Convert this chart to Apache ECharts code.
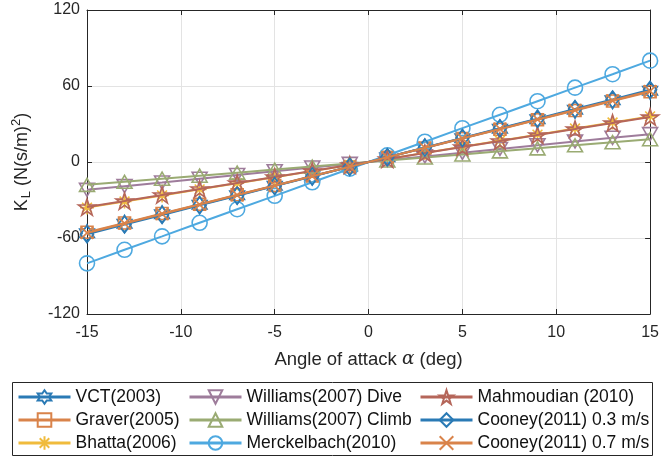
<!DOCTYPE html>
<html>
<head>
<meta charset="utf-8">
<script src="https://cdn.jsdelivr.net/npm/echarts@6/dist/echarts.min.js"></script>
<style>html,body{margin:0;padding:0;background:#fff}#c{width:662px;height:460px}</style>
</head>
<body>
<div id="c"></div>
<script>
const angles = [-15,-13,-11,-9,-7,-5,-3,-1,1,3,5,7,9,11,13,15];
const xTicks = [-15,-10,-5,0,5,10,15];
const yTicks = [-120,-60,0,60,120];

const vct2003 = [-56.3,-48.8,-41.3,-33.8,-26.3,-18.8,-11.3,-3.8,3.8,11.3,18.8,26.3,33.8,41.3,48.8,56.3];
const graver2005 = [-55.5,-48.1,-40.7,-33.3,-25.9,-18.5,-11.1,-3.7,3.7,11.1,18.5,25.9,33.3,40.7,48.1,55.5];
const bhatta2006 = [-36,-31.2,-26.4,-21.6,-16.8,-12,-7.2,-2.4,2.4,7.2,12,16.8,21.6,26.4,31.2,36];
const williamsDive = [-22,-19.1,-16.2,-13.2,-10.3,-7.3,-4.4,-1.5,1.5,4.4,7.3,10.3,13.2,16.2,19.1,22];
const williamsClimb = [-18,-15.6,-13.2,-10.8,-8.4,-6,-3.6,-1.2,1.2,3.6,6,8.4,10.8,13.2,15.6,18];
const merckelbach2010 = [-80,-69.3,-58.7,-48,-37.3,-26.7,-16,-5.3,5.3,16,26.7,37.3,48,58.7,69.3,80];
const mahmoudian2010 = [-35.5,-30.8,-26.0,-21.3,-16.6,-11.8,-7.1,-2.4,2.4,7.1,11.8,16.6,21.3,26.0,30.8,35.5];
const cooney03 = [-57,-49.4,-41.8,-34.2,-26.6,-19,-11.4,-3.8,3.8,11.4,19,26.6,34.2,41.8,49.4,57];
const cooney07 = [-56,-48.5,-41,-33.6,-26.1,-18.7,-11.2,-3.7,3.7,11.2,18.7,26.1,33.6,41,48.5,56];

const names = ['VCT(2003)','Graver(2005)','Bhatta(2006)','Williams(2007) Dive','Williams(2007) Climb','Merckelbach(2010)','Mahmoudian (2010)','Cooney(2011) 0.3 m/s','Cooney(2011) 0.7 m/s'];
const values = [vct2003,graver2005,bhatta2006,williamsDive,williamsClimb,merckelbach2010,mahmoudian2010,cooney03,cooney07];
const colors = ['#2a7ab5','#d9834a','#f0bb3c','#9e7c9b','#9aab73','#4ea9e0','#b5665a','#2a7ab5','#d9834a'];

const hexagram = 'path://M0,-10L2.89,-5L8.66,-5L5.77,0L8.66,5L2.89,5L0,10L-2.89,5L-8.66,5L-5.77,0L-8.66,-5L-2.89,-5Z';
const pentagram = 'path://M0,-10L2.25,-3.09L9.51,-3.09L3.63,1.18L5.88,8.09L0,3.82L-5.88,8.09L-3.63,1.18L-9.51,-3.09L-2.25,-3.09Z';
const asterisk = 'path://M0,-10L0,10M-10,0L10,0M-7,-7L7,7M-7,7L7,-7';
const crossX = 'path://M-10,-10L10,10M-10,10L10,-10';
const triDown = 'path://M-10,-8.7L10,-8.7L0,8.7Z';
const triUp = 'path://M-10,8.7L10,8.7L0,-8.7Z';
const symbols = [hexagram,'rect',asterisk,triDown,triUp,'circle',pentagram,'diamond',crossX];
const sizes = [17,12,14,15,15,15,17,[13,17],12];

const series = names.map((n,i)=>({
  name:n, type:'line', xAxisIndex:0, yAxisIndex:0,
  data: angles.map((a,j)=>[a, values[i][j]]),
  symbol: symbols[i], symbolSize: sizes[i], symbolKeepAspect:true, showAllSymbol:true,
  lineStyle:{color:colors[i], width:2},
  itemStyle:{color:'rgba(0,0,0,0)', borderColor:colors[i], borderWidth:1.6},
  emphasis:{disabled:true}, z: 2+i
}));

const font = 'Liberation Sans, Arial, Helvetica, sans-serif';
const col = (arr,left)=>({
  orient:'vertical', left:left, top:388, height:72, itemWidth:52, itemHeight:17, itemGap:5,
  data: arr, selectedMode:false, padding:0,
  lineStyle:{width:3},
  textStyle:{fontFamily:font, fontSize:17.5, lineHeight:18, color:'#111'}
});

const axisLine = {show:true, onZero:false, lineStyle:{color:'#262626'}};
const tick = {show:true, inside:true, length:5, lineStyle:{color:'#262626'}};

const chart = echarts.init(document.getElementById('c'), null, {renderer:'canvas'});
chart.setOption({
  animation:false,
  backgroundColor:'#fff',
  grid:{left:87, right:9, top:10, bottom:146},
  graphic:[{type:'rect', shape:{x:12.5, y:382.5, width:640, height:73}, style:{fill:'#fff', stroke:'#262626', lineWidth:1}, z:0}],
  legend:[ col(names.slice(0,3),17), col(names.slice(3,6),188), col(names.slice(6,9),419) ],
  xAxis:[{
    type:'value', min:-15, max:15, interval:5,
    name:'{n|Angle of attack }{a|α}{n| (deg)}', nameLocation:'middle', nameGap:36,
    nameTextStyle:{rich:{n:{fontFamily:font,fontSize:18.5,color:'#262626'},a:{fontFamily:'DejaVu Serif, serif',fontStyle:'italic',fontSize:18.5,color:'#262626'}}},
    axisLine:axisLine, axisTick:tick,
    axisLabel:{fontFamily:font,fontSize:16,color:'#262626',margin:11},
    splitLine:{show:true,lineStyle:{color:'#e3e3e3'}}
  },{
    type:'value', min:-15, max:15, interval:5, position:'top',
    axisLine:axisLine, axisTick:tick,
    axisLabel:{show:false}, splitLine:{show:false}
  }],
  yAxis:[{
    type:'value', min:-120, max:120, interval:60,
    name:'{n|K}{s|L}{n| (N(s/m)}{p|2}{n|)}', nameLocation:'middle', nameGap:53, nameRotate:90,
    nameTextStyle:{rich:{
      n:{fontFamily:font,fontSize:18,color:'#262626'},
      s:{fontFamily:font,fontSize:13,color:'#262626',padding:[9,0,0,1]},
      p:{fontFamily:font,fontSize:13,color:'#262626',padding:[0,0,11,0]}}},
    axisLine:axisLine, axisTick:tick,
    axisLabel:{fontFamily:font,fontSize:16,color:'#262626',margin:7},
    splitLine:{show:true,lineStyle:{color:'#e3e3e3'}}
  },{
    type:'value', min:-120, max:120, interval:60, position:'right',
    axisLine:axisLine, axisTick:tick,
    axisLabel:{show:false}, splitLine:{show:false}
  }],
  series: series
});
</script>
</body>
</html>
